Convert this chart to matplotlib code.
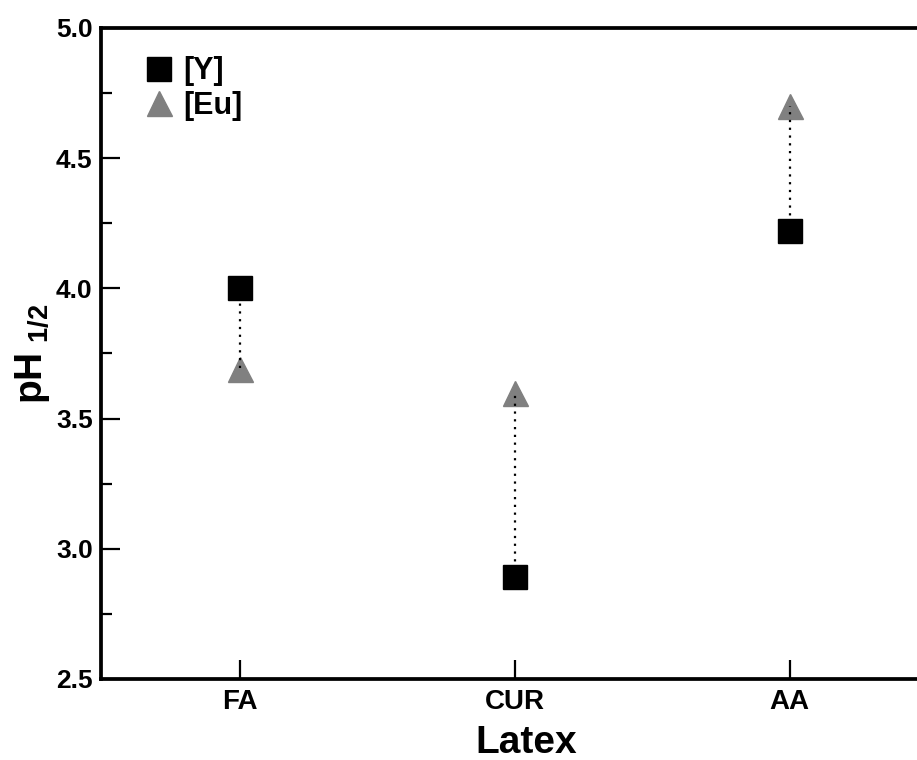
import matplotlib
matplotlib.use("Agg")
import matplotlib.pyplot as plt
from matplotlib.ticker import MultipleLocator, FormatStrFormatter

plt.rcParams['font.family'] = ['Liberation Sans', 'DejaVu Sans']
plt.rcParams['font.weight'] = 'bold'
plt.rcParams['mathtext.fontset'] = 'custom'
plt.rcParams['mathtext.rm'] = 'Liberation Sans:bold'
plt.rcParams['mathtext.bf'] = 'Liberation Sans:bold'
plt.rcParams['mathtext.default'] = 'bf'

# data
latex = ['FA', 'CUR', 'AA']
ph_y = [4.00, 2.89, 4.22]
ph_eu = [3.69, 3.60, 4.70]

def main():
    W, H = 917, 760
    fig = plt.figure(figsize=(W / 100, H / 100), dpi=100)
    ax = fig.add_axes([101 / W, 1 - 679 / H, 1 - 101 / W, (679 - 28) / H])

    xs = list(range(1, len(latex) + 1))

    ax.plot(xs, ph_eu, linestyle='none', marker='^', ms=18, color='#808080',
            mec='#808080', label='[Eu]', zorder=2)
    # dotted connectors drawn over the triangles
    for x, a, b in zip(xs, ph_y, ph_eu):
        ax.plot([x, x], [a, b], color='black', linestyle=(0, (1, 2.5)), lw=1.6, zorder=3)
    ax.plot(xs, ph_y, linestyle='none', marker='s', ms=17, color='black',
            label='[Y]', zorder=4)

    ax.set_xlim(0.494, 3.464)
    ax.set_ylim(2.5, 5.0)
    ax.set_xticks(xs)
    ax.set_xticklabels(latex)
    ax.yaxis.set_major_locator(MultipleLocator(0.5))
    ax.yaxis.set_minor_locator(MultipleLocator(0.25))
    ax.yaxis.set_major_formatter(FormatStrFormatter('%.1f'))

    ax.tick_params(axis='both', which='major', direction='in', length=14, width=1.6)
    ax.tick_params(axis='y', which='major', labelsize=19, pad=6)
    ax.tick_params(axis='x', which='major', labelsize=20, pad=7)
    ax.tick_params(axis='y', which='minor', direction='in', length=8, width=1.6)

    for s in ['left', 'bottom', 'top']:
        ax.spines[s].set_linewidth(2.7)
    ax.spines['right'].set_visible(False)

    axw, axh = W - 101, 679 - 28
    xl = ax.set_xlabel('Latex', fontsize=28, fontweight='bold')
    ax.xaxis.set_label_coords((526 - 101) / axw, -(753 - 679) / axh)
    xl.set_va('baseline')

    ax.set_ylabel(r'pH$_{\ 1/2}$', fontsize=28, fontweight='bold')
    ax.yaxis.set_label_coords(-(101 - 52) / axw, 0.5)

    handles, labels = ax.get_legend_handles_labels()
    ax.legend(handles[::-1], labels[::-1], loc='upper left',
              bbox_to_anchor=((131 - 101) / axw, 1 - (44 - 28) / axh),
              frameon=False, fontsize=22, handletextpad=0.3, borderaxespad=0,
              labelspacing=0.15, handlelength=1.0, markerscale=1.0)

    fig.savefig('out.png', dpi=100)

if __name__ == "__main__":
    main()
